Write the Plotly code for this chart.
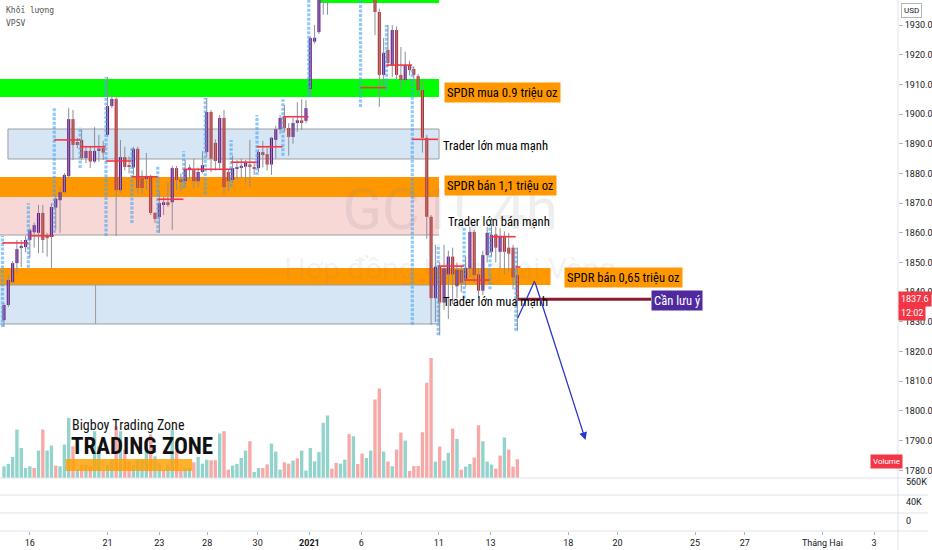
import plotly.graph_objects as go

# ---------------- data ----------------
opens = [1830.6, 1835.7, 1843.4, 1849.8, 1855.0, 1855.2, 1857.6, 1860.2, 1860.0, 1866.7,
         1859.3, 1858.6, 1868.5, 1871.0, 1873.7, 1879.1, 1898.3, 1890.6, 1891.3, 1885.2,
         1887.6, 1884.0, 1887.6, 1888.6, 1893.0, 1902.7, 1905.1, 1874.4, 1885.5, 1882.5,
         1882.0, 1888.3, 1878.5, 1878.3, 1878.8, 1866.7, 1865.3, 1869.7, 1870.3, 1870.3,
         1881.8, 1878.0, 1877.4, 1881.4, 1881.1, 1877.4, 1880.5, 1887.2, 1900.7, 1890.3,
         1883.5, 1898.7, 1880.5, 1877.8, 1881.6, 1882.0, 1882.3, 1883.0, 1882.0, 1881.8,
         1887.2, 1886.5, 1883.0, 1891.3, 1894.9, 1899.0, 1895.3, 1892.3, 1897.3, 1897.7,
         1897.7, 1908.4, 1924.4, 1927.6, 1940.0, 1943.0, 1941.0, 1946.0, 1944.0, 1948.0,
         1950.0, 1947.0, 1951.0, 1954.0, 1950.0, 1947.0, 1942.0, 1934.4, 1913.2, 1921.6,
         1916.5, 1928.3, 1913.2, 1911.5, 1916.5, 1915.2, 1912.8, 1908.1, 1892.0, 1865.4,
         1838.0, 1848.6, 1836.5, 1846.0, 1852.0, 1842.0, 1847.6, 1844.5, 1848.0, 1860.3,
         1846.0, 1840.5, 1852.5, 1853.6, 1859.5, 1853.6, 1859.0, 1855.0, 1855.0, 1845.8]
highs = [1836.4, 1845.8, 1850.5, 1857.6, 1857.6, 1859.0, 1861.6, 1863.5, 1869.4, 1869.4,
         1860.0, 1870.0, 1872.5, 1875.5, 1880.1, 1902.0, 1901.4, 1892.0, 1894.6, 1889.0,
         1889.0, 1895.6, 1893.0, 1891.0, 1912.5, 1907.0, 1906.0, 1891.3, 1889.0, 1885.8,
         1889.0, 1889.0, 1881.0, 1886.9, 1879.5, 1867.0, 1874.0, 1872.0, 1877.0, 1882.5,
         1882.5, 1880.0, 1884.5, 1883.0, 1885.0, 1882.0, 1887.5, 1905.4, 1901.4, 1891.5,
         1899.7, 1901.4, 1881.5, 1886.0, 1884.5, 1885.0, 1884.5, 1891.3, 1884.0, 1888.0,
         1891.0, 1888.6, 1892.3, 1896.0, 1899.7, 1903.0, 1896.9, 1898.7, 1904.0, 1905.0,
         1904.7, 1926.0, 1930.0, 1942.0, 1945.0, 1946.0, 1948.0, 1949.0, 1951.0, 1953.0,
         1952.0, 1956.0, 1959.0, 1957.0, 1952.0, 1949.0, 1950.0, 1935.5, 1925.6, 1930.0,
         1930.0, 1929.5, 1922.6, 1921.0, 1918.0, 1916.0, 1913.5, 1911.0, 1893.0, 1866.0,
         1856.0, 1850.0, 1856.0, 1854.0, 1855.0, 1850.0, 1849.0, 1852.0, 1862.0, 1861.0,
         1848.0, 1854.0, 1862.0, 1863.0, 1862.0, 1861.5, 1860.5, 1860.0, 1856.0, 1855.0]
lows = [1828.3, 1835.0, 1843.0, 1846.5, 1848.5, 1853.5, 1851.6, 1855.0, 1853.2, 1853.2,
        1852.0, 1848.2, 1861.0, 1860.0, 1873.3, 1878.4, 1884.5, 1888.5, 1884.5, 1883.5,
        1881.8, 1883.5, 1884.0, 1884.5, 1892.3, 1902.0, 1858.9, 1873.4, 1881.0, 1880.0,
        1879.5, 1873.4, 1873.0, 1874.4, 1866.0, 1863.3, 1860.0, 1866.0, 1868.7, 1861.0,
        1874.4, 1874.0, 1875.4, 1878.0, 1875.0, 1875.5, 1880.0, 1885.5, 1880.5, 1881.0,
        1881.4, 1873.0, 1874.0, 1876.8, 1878.0, 1878.5, 1877.0, 1875.4, 1879.5, 1880.5,
        1882.0, 1881.0, 1879.5, 1885.0, 1893.3, 1894.0, 1886.0, 1890.0, 1894.0, 1894.6,
        1896.9, 1905.7, 1923.7, 1927.0, 1933.4, 1933.5, 1939.0, 1941.0, 1942.0, 1946.0,
        1945.0, 1946.0, 1949.0, 1948.0, 1944.0, 1940.0, 1926.6, 1902.4, 1909.6, 1915.9,
        1912.5, 1911.8, 1908.0, 1910.0, 1913.0, 1911.0, 1906.0, 1887.0, 1858.0, 1829.0,
        1830.0, 1825.5, 1834.0, 1831.0, 1836.0, 1838.0, 1840.0, 1842.0, 1845.0, 1843.0,
        1838.0, 1839.0, 1850.0, 1852.0, 1850.0, 1848.0, 1846.0, 1847.0, 1841.0, 1827.0]
closes = [1835.7, 1844.1, 1849.8, 1854.5, 1855.5, 1857.6, 1860.9, 1862.6, 1866.7, 1857.6,
          1858.2, 1868.7, 1871.5, 1873.7, 1879.5, 1898.3, 1889.6, 1889.6, 1885.2, 1887.6,
          1884.0, 1887.6, 1888.4, 1887.0, 1902.7, 1905.1, 1874.4, 1885.5, 1882.2, 1882.2,
          1888.3, 1875.1, 1875.1, 1878.8, 1866.7, 1864.7, 1870.0, 1870.3, 1869.7, 1881.8,
          1877.8, 1877.4, 1881.5, 1882.0, 1877.4, 1880.5, 1882.8, 1900.7, 1885.0, 1884.2,
          1898.7, 1875.4, 1877.4, 1881.8, 1881.8, 1882.3, 1883.6, 1882.2, 1881.6, 1887.2,
          1886.2, 1883.0, 1892.0, 1894.9, 1898.7, 1895.3, 1892.3, 1897.0, 1897.7, 1897.3,
          1902.0, 1925.6, 1925.7, 1938.5, 1943.0, 1941.0, 1946.0, 1944.0, 1948.0, 1950.0,
          1947.0, 1951.0, 1954.0, 1950.0, 1947.0, 1942.0, 1934.4, 1913.2, 1920.6, 1917.2,
          1928.3, 1913.2, 1911.5, 1916.5, 1914.8, 1913.2, 1908.1, 1892.0, 1865.4, 1838.0,
          1848.6, 1836.5, 1848.0, 1852.0, 1846.0, 1847.6, 1843.2, 1848.2, 1860.3, 1845.8,
          1840.5, 1852.5, 1860.0, 1859.3, 1855.0, 1859.0, 1853.6, 1853.0, 1845.0, 1837.6]

volumes = [35, 42, 63, 145, 90, 30, 35, 30, 82, 145, 82, 97, 37, 35, 100, 180, 95, 25, 40, 40,
           35, 140, 95, 25, 40, 55, 155, 140, 85, 50, 40, 55, 55, 110, 130, 65, 45, 25, 40, 145,
           80, 25, 30, 30, 47, 63, 43, 55, 53, 53, 133, 140, 25, 37, 42, 60, 82, 110, 18, 30,
           30, 41, 103, 79, 25, 47, 43, 52, 59, 82, 22, 90, 50, 78, 165, 187, 28, 45, 43, 55,
           131, 125, 42, 73, 60, 82, 235, 268, 79, 49, 35, 85, 136, 112, 21, 36, 36, 137, 285, 359,
           49, 94, 52, 75, 148, 117, 25, 34, 42, 61, 158, 110, 49, 40, 28, 67, 121, 85, 34, 56]
vol_up = [1, 1, 1, 1, 1, 1, 1, 0, 1, 0, 1, 1, 0, 1, 1, 1, 0, 1, 0, 1,
          0, 1, 1, 0, 1, 1, 0, 1, 0, 0, 1, 1, 1, 1, 0, 1, 1, 0, 1, 1,
          0, 0, 1, 1, 0, 1, 1, 1, 0, 0, 1, 0, 0, 1, 1, 1, 1, 0, 1, 1,
          0, 0, 1, 1, 1, 0, 0, 1, 0, 1, 1, 1, 1, 1, 1, 1, 0, 0, 1, 1,
          0, 1, 0, 0, 1, 1, 0, 0, 1, 0, 1, 0, 0, 1, 0, 0, 0, 0, 0, 0,
          1, 0, 1, 1, 0, 1, 0, 1, 1, 0, 0, 1, 1, 1, 0, 0, 1, 0, 0, 0]

session_start = [0, 6, 12, 18, 24, 30, 36, 42, 47, 53, 59, 65, 71, 77, 83, 89, 95, 101, 107, 113, 119]
session_poc = [1856.6, 1859.0, 1891.3, 1889.0, 1884.2, 1878.9, 1871.3, 1881.4, 1881.4, 1883.8,
               1889.0, 1899.1, 1945.0, 1950.0, 1908.9, 1916.5, 1891.5, 1848.8, 1844.1, 1858.7, 1848.5]

tick_pos = [6.0, 24.0, 36.0, 47.1, 58.8, 70.8, 82.8, 100.8, 112.8, 130.8, 142.2, 160.2, 171.7, 189.7, 201.7]
tick_text = ["16", "21", "23", "28", "30", "<b>2021</b>", "6", "11", "13", "18", "20", "25", "27",
             "Tháng Hai", "3"]

# zone price bounds
zone_low = [1937.4, 1905.75, 1884.87, 1872.07, 1859.27, 1842.43, 1829.3, 1829.3]
zone_high = [1950.0, 1911.81, 1894.97, 1878.8, 1872.07, 1848.15, 1842.43, 1842.43]

last_price = 1837.6
arrow_x = [119.1, 123.0, 134.8]
arrow_y = [1831.3, 1843.8, 1790.2]

# ---------------- geometry helpers ----------------
FIG_W, FIG_H = 932, 550
PLOT_R = 902
PPB = 26 / 6          # px per bar
X0 = 4.0              # px of bar 0
PX_PER_USD = 2.969
PANE_BOTTOM = 478


def px2bar(p):
    return (p - X0) / PPB


def py2price(y):
    return 1930 - (y - 25) / PX_PER_USD


def pxp(x):
    return x / PLOT_R


def pyp(y):
    return 1 - y / FIG_H


n = len(opens)
idx = list(range(n))

UP_BODY = "#6a1b9a"
DN_BODY = "#cc2b2b"
WICK = "#8c8f98"

fig = go.Figure()

# watermark (below candles)
fig.add_trace(go.Scatter(x=[px2bar(452)], y=[py2price(214)], mode="text", text=["GC1!, 4h"],
                         textfont=dict(size=58, color="rgba(120,123,134,0.13)", family="Roboto"),
                         hoverinfo="skip", showlegend=False))
fig.add_trace(go.Scatter(x=[px2bar(452)], y=[py2price(271)], mode="text", text=["Hợp đồng tương lai Vàng"],
                         textfont=dict(size=30, color="rgba(120,123,134,0.10)", family="Roboto"),
                         hoverinfo="skip", showlegend=False))

# volume
for flag, col in ((1, "#92d3cc"), (0, "#f7a9a7")):
    xs = [i for i in idx if vol_up[i] == flag]
    fig.add_trace(go.Bar(x=xs, y=[volumes[i] for i in xs], yaxis="y2", width=0.78,
                         marker=dict(color=col, line=dict(width=0)), hoverinfo="skip",
                         showlegend=False))

# session volume profile columns
sx, sy = [], []
for k, s in enumerate(session_start):
    e = session_start[k + 1] if k + 1 < len(session_start) else n
    lo = min(lows[s:e])
    hi = max(highs[s:e])
    sx += [s - 0.35, s - 0.35, None]
    sy += [lo, hi, None]
fig.add_trace(go.Scatter(x=sx, y=sy, mode="lines",
                         line=dict(color="rgba(66,165,245,0.6)", width=3.2, dash="3px,1.5px"),
                         hoverinfo="skip", showlegend=False))

# wicks
wx, wy = [], []
for i in idx:
    wx += [i, i, None]
    wy += [lows[i], highs[i], None]
fig.add_trace(go.Scatter(x=wx, y=wy, mode="lines", line=dict(color=WICK, width=1),
                         hoverinfo="skip", showlegend=False))

# bodies
for up, col in ((True, UP_BODY), (False, DN_BODY)):
    xs = [i for i in idx if (closes[i] >= opens[i]) == up]
    base = [min(opens[i], closes[i]) for i in xs]
    hgt = [max(abs(closes[i] - opens[i]), 0.6) for i in xs]
    fig.add_trace(go.Bar(x=xs, y=hgt, base=base, width=0.72,
                         marker=dict(color=col, line=dict(width=0)),
                         hoverinfo="skip", showlegend=False))

# POC lines
px_, py_ = [], []
for k, s in enumerate(session_start):
    e = session_start[k + 1] if k + 1 < len(session_start) else n + 0.1
    px_ += [s - 0.4, e - 0.4, None]
    py_ += [session_poc[k], session_poc[k], None]
fig.add_trace(go.Scatter(x=px_, y=py_, mode="lines", line=dict(color="#f23645", width=1.6),
                         hoverinfo="skip", showlegend=False))

# maroon horizontal line
fig.add_trace(go.Scatter(x=[px2bar(520), px2bar(654)], y=[last_price, last_price], mode="lines",
                         line=dict(color="#8e1b2e", width=3), hoverinfo="skip", showlegend=False))

# blue arrow first leg
fig.add_trace(go.Scatter(x=arrow_x[:2], y=arrow_y[:2], mode="lines",
                         line=dict(color="#2b35c8", width=1.3), hoverinfo="skip", showlegend=False))

shapes = []
zone_left_px = [320, 0, 8, 0, 0, 0, 0, 96]
zone_right_px = [441, 441, 441, 441, 441, 553, 96, 441]
zone_fill = ["#00ff00", "#00ff00", "#d7e6f5", "#ff9800", "#f8d7d7", "#ff9800", "#d7e6f5", "#d7e6f5"]
zone_border = [None, None, "#9e9e9e", None, None, None, "#9e9e9e", "#9e9e9e"]
for k in range(len(zone_low)):
    x0 = px2bar(zone_left_px[k]) - (2 if zone_left_px[k] == 0 else 0)
    x1 = px2bar(zone_right_px[k])
    shapes.append(dict(type="rect", xref="x", yref="y", x0=x0, x1=x1, y0=zone_low[k], y1=zone_high[k],
                       fillcolor=zone_fill[k], layer="below",
                       line=dict(width=1 if zone_border[k] else 0, color=zone_border[k] or zone_fill[k])))
shapes.append(dict(type="line", xref="x", yref="y", x0=px2bar(0) - 2, x1=px2bar(441),
                   y0=zone_low[4], y1=zone_low[4], layer="below", line=dict(color="#9e9e9e", width=1)))

for yy in (PANE_BOTTOM, 495, 513, 531):
    shapes.append(dict(type="line", xref="paper", yref="paper", x0=0, x1=FIG_W / PLOT_R,
                       y0=pyp(yy), y1=pyp(yy), line=dict(color="#e0e3eb", width=1)))
shapes.append(dict(type="line", xref="paper", yref="paper", x0=1, x1=1, y0=0, y1=1,
                   line=dict(color="#e0e3eb", width=1)))
shapes.append(dict(type="rect", xref="paper", yref="paper", x0=pxp(66), x1=pxp(193),
                   y0=pyp(471), y1=pyp(459), fillcolor="rgba(255,160,0,0.82)", line=dict(width=0)))

LBL_FONT = "Liberation Sans Narrow, Roboto Condensed, Roboto, sans-serif"
ann = []


def lbl(text, xpx, ypx, bg=None, color="#000000", size=12.6):
    d = dict(x=px2bar(xpx), y=py2price(ypx), xref="x", yref="y", text=text, showarrow=False,
             xanchor="left", yanchor="middle", font=dict(family=LBL_FONT, size=size, color=color))
    if bg:
        d.update(bgcolor=bg, borderpad=2)
    ann.append(d)


lbl("SPDR mua 0.9 triệu oz", 446, 92.5, bg="#ff9800")
lbl("Trader lớn mua mạnh", 443, 145)
lbl("SPDR bán 1,1 triệu oz", 446, 185.5, bg="#ff9800")
lbl("Trader lớn bán mạnh", 448, 221)
lbl("SPDR bán 0,65 triệu oz", 567, 277, bg="#ff9800")
lbl("Trader lớn mua mạnh", 443, 301)
lbl("Cần lưu ý", 654, 300.5, bg="#4f2a9f", color="#ffffff")

ann.append(dict(x=arrow_x[2], y=arrow_y[2], ax=arrow_x[1], ay=arrow_y[1], xref="x", yref="y",
                axref="x", ayref="y", text="", showarrow=True, arrowhead=2, arrowsize=1.2,
                arrowwidth=1.3, arrowcolor="#2b35c8"))

for t, yy in (("Khối lượng", 10), ("VPSV", 23)):
    ann.append(dict(x=pxp(4), y=pyp(yy), xref="paper", yref="paper", text=t, showarrow=False,
                    xanchor="left", yanchor="middle",
                    font=dict(family="DejaVu Sans Mono", size=8, color="#555555")))

ann.append(dict(x=pxp(70), y=pyp(425), xref="paper", yref="paper", text="Bigboy Trading Zone",
                showarrow=False, xanchor="left", yanchor="middle",
                font=dict(family=LBL_FONT, size=14, color="#111111")))
ann.append(dict(x=pxp(69), y=pyp(446), xref="paper", yref="paper", text="<b>TRADING ZONE</b>",
                showarrow=False, xanchor="left", yanchor="middle",
                font=dict(family=LBL_FONT, size=23, color="#111111")))

ann.append(dict(x=pxp(916), y=pyp(10.5), xref="paper", yref="paper", text="USD", showarrow=False,
                xanchor="center", yanchor="middle", bordercolor="#b2b5be", borderwidth=1, borderpad=2,
                font=dict(family="Roboto", size=8, color="#131722")))
ann.append(dict(x=1.0, y=last_price, xref="paper", yref="y", text="1837.6", showarrow=False,
                xanchor="left", yanchor="middle", bgcolor="#f23645", borderpad=2,
                font=dict(family="Roboto", size=9, color="#ffffff")))
ann.append(dict(x=1.0, y=py2price(312.5), xref="paper", yref="y", text="12:02", showarrow=False,
                xanchor="left", yanchor="middle", bgcolor="#f23645", borderpad=2,
                font=dict(family="Roboto", size=9, color="#ffffff")))
ann.append(dict(x=pxp(907), y=pyp(461), xref="paper", yref="paper", text="Volume", showarrow=False,
                xanchor="right", yanchor="middle", bgcolor="#f23645", borderpad=2,
                font=dict(family="Roboto", size=8, color="#ffffff")))
for t, yy in (("560K", 482), ("40K", 502), ("0", 521)):
    ann.append(dict(x=pxp(908), y=pyp(yy), xref="paper", yref="paper", text=t, showarrow=False,
                    xanchor="left", yanchor="middle", font=dict(family="Roboto", size=9, color="#131722")))

fig.update_layout(
    width=FIG_W, height=FIG_H, margin=dict(l=0, r=FIG_W - PLOT_R, t=0, b=0),
    paper_bgcolor="#ffffff", plot_bgcolor="#ffffff", barmode="overlay", showlegend=False,
    font=dict(family="Roboto", size=9, color="#131722"),
    xaxis=dict(range=[px2bar(0), px2bar(PLOT_R)], anchor="free", position=pyp(531),
               tickmode="array", tickvals=tick_pos, ticktext=tick_text, showgrid=False,
               zeroline=False, showline=False, ticks="outside", ticklen=3, tickcolor="#b2b5be",
               tickfont=dict(size=9, color="#131722")),
    yaxis=dict(domain=[pyp(PANE_BOTTOM), 1], range=[py2price(PANE_BOTTOM), py2price(0)], side="right",
               tickmode="linear", tick0=1780, dtick=10, tickformat=".1f", showgrid=False, zeroline=False,
               showline=False, ticks="outside", ticklen=4, tickcolor="#b2b5be",
               tickfont=dict(size=9, color="#131722")),
    yaxis2=dict(domain=[pyp(PANE_BOTTOM), 1], overlaying="y", range=[0, 359 * PANE_BOTTOM / 120],
                visible=False),
    shapes=shapes, annotations=ann,
)

fig.write_html("out.html", config={"displayModeBar": False},
               post_script="document.body.style.margin='0';")
